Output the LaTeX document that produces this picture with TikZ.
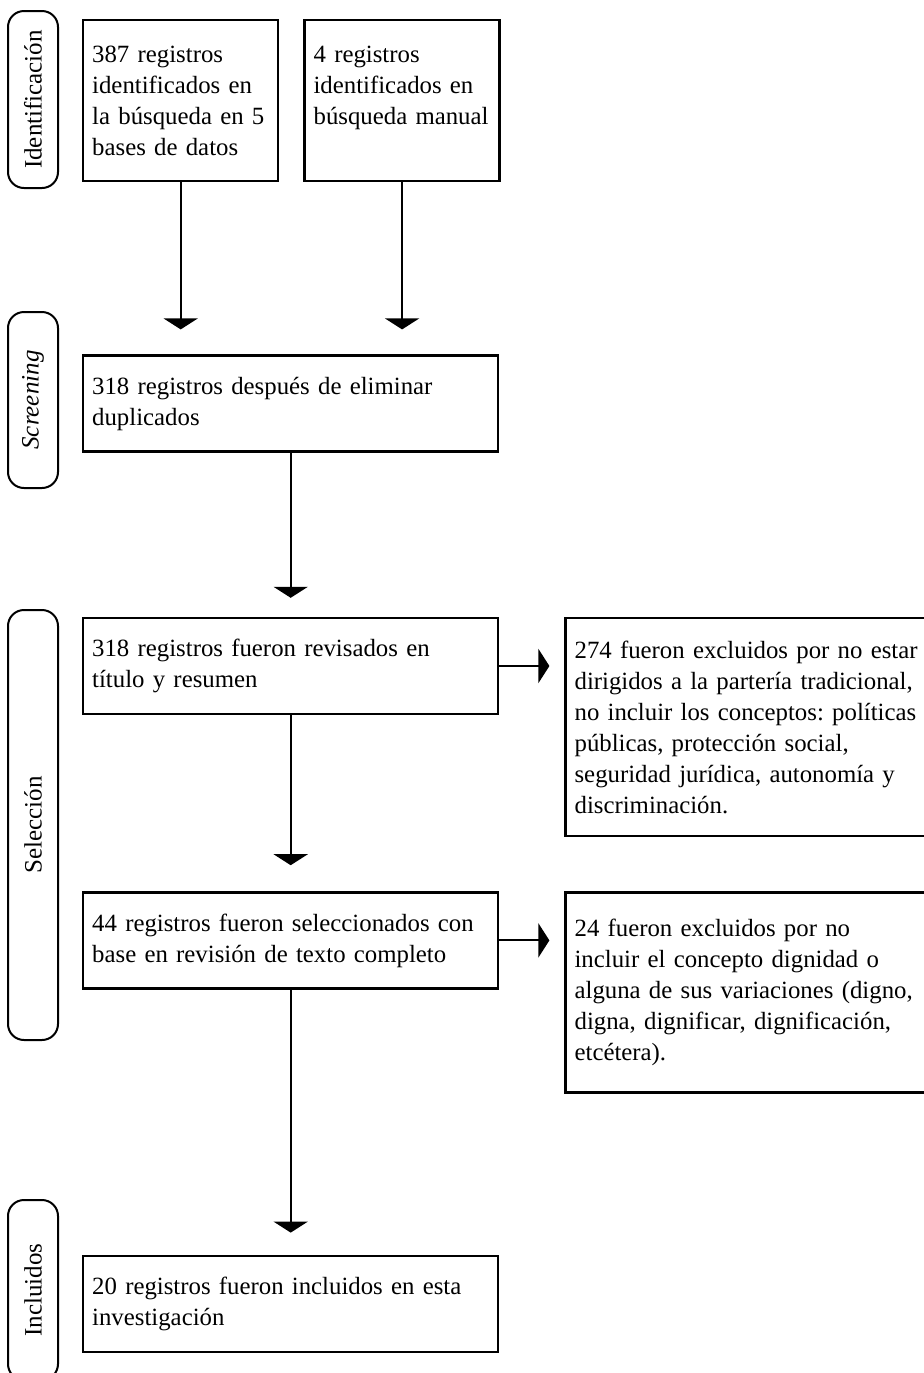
\documentclass[tikz,border=0pt]{standalone}
\usepackage{fontspec}
\setmainfont{Liberation Serif}
\usetikzlibrary{arrows.meta,positioning}
\frenchspacing

\begin{document}
\begin{tikzpicture}[
        x=0.5pt, y=-0.5pt,
        >={Triangle[width=17pt,length=5.5pt]},
        flow/.style={->, line width=1pt},
        record/.style={draw, line width=1.2pt, inner xsep=4.5pt, align=left, font=\fontsize{12.4}{15.5}\selectfont},
        narrow/.style={record, minimum width=97.5pt, minimum height=80.5pt, text width=88.5pt},
        wide/.style={record, minimum width=207.5pt, minimum height=48pt, text width=198.5pt},
        aside/.style={record, minimum width=181pt, text width=176pt},
        stage/.style={draw, line width=1pt, rounded corners=8pt, rotate=90, minimum height=25pt, inner sep=0pt, font=\fontsize{12.5}{15.5}\selectfont}
    ]

    \useasboundingbox (0,0) rectangle (923,1373);

    % Nodes
    \node[narrow, anchor=north west] (db) at (82,19) {387 registros\\ identificados en\\ la búsqueda en 5\\ bases de datos};
    \node[narrow, right=12pt of db] (manual) {4 registros\\ identificados en\\ búsqueda manual\\ \mbox{}};

    \node[wide, below=86pt of db.south west, anchor=north west] (dup) {318 registros después de eliminar\\ duplicados};
    \node[wide, below=82pt of dup.south west, anchor=north west] (title) {318 registros fueron revisados en\\ título y resumen};
    \node[aside, minimum height=109pt, right=32.5pt of title.north east, anchor=north west] (excl1) {274 fueron excluidos por no estar\\ dirigidos a la partería tradicional,\\ no incluir los conceptos: políticas\\ públicas, protección social,\\ seguridad jurídica, autonomía y\\ discriminación.};
    \node[wide, below=88pt of title.south west, anchor=north west] (full) {44 registros fueron seleccionados con\\ base en revisión de texto completo};
    \node[aside, minimum height=100pt, right=32.5pt of full.north east, anchor=north west] (excl2) {24 fueron excluidos por no\\ incluir el concepto dignidad o\\ alguna de sus variaciones (digno,\\ digna, dignificar, dignificación,\\ etcétera).};
    \node[wide, below=132.5pt of full.south west, anchor=north west] (incl) {20 registros fueron incluidos en esta\\ investigación};

    % Stages
    \node[stage, minimum width=88.5pt] (ident) at (33,99.5) {Identificación};
    \node[stage, minimum width=88pt] (screen) at (33,400) {\textit{Screening}};
    \node[stage, minimum width=215pt] (select) at (33,825) {Selección};
    \node[stage, minimum width=90pt] (included) at (33,1290) {Incluidos};

    % Edges
    \draw[flow, shorten >=12.5pt] (db) -- (db |- dup.north);
    \draw[flow, shorten >=12.5pt] (manual) -- (manual |- dup.north);
    \draw[flow, shorten >=9.5pt] (dup) -- (dup |- title.north);
    \draw[flow, shorten >=13pt] (title) -- (title |- full.north);
    \draw[flow, shorten >=11pt] (full) -- (full |- incl.north);
    \draw[flow, shorten >=7.5pt] (title) -- (title -| excl1.west);
    \draw[flow, shorten >=7.5pt] (full) -- (full -| excl2.west);

\end{tikzpicture}
\end{document}
